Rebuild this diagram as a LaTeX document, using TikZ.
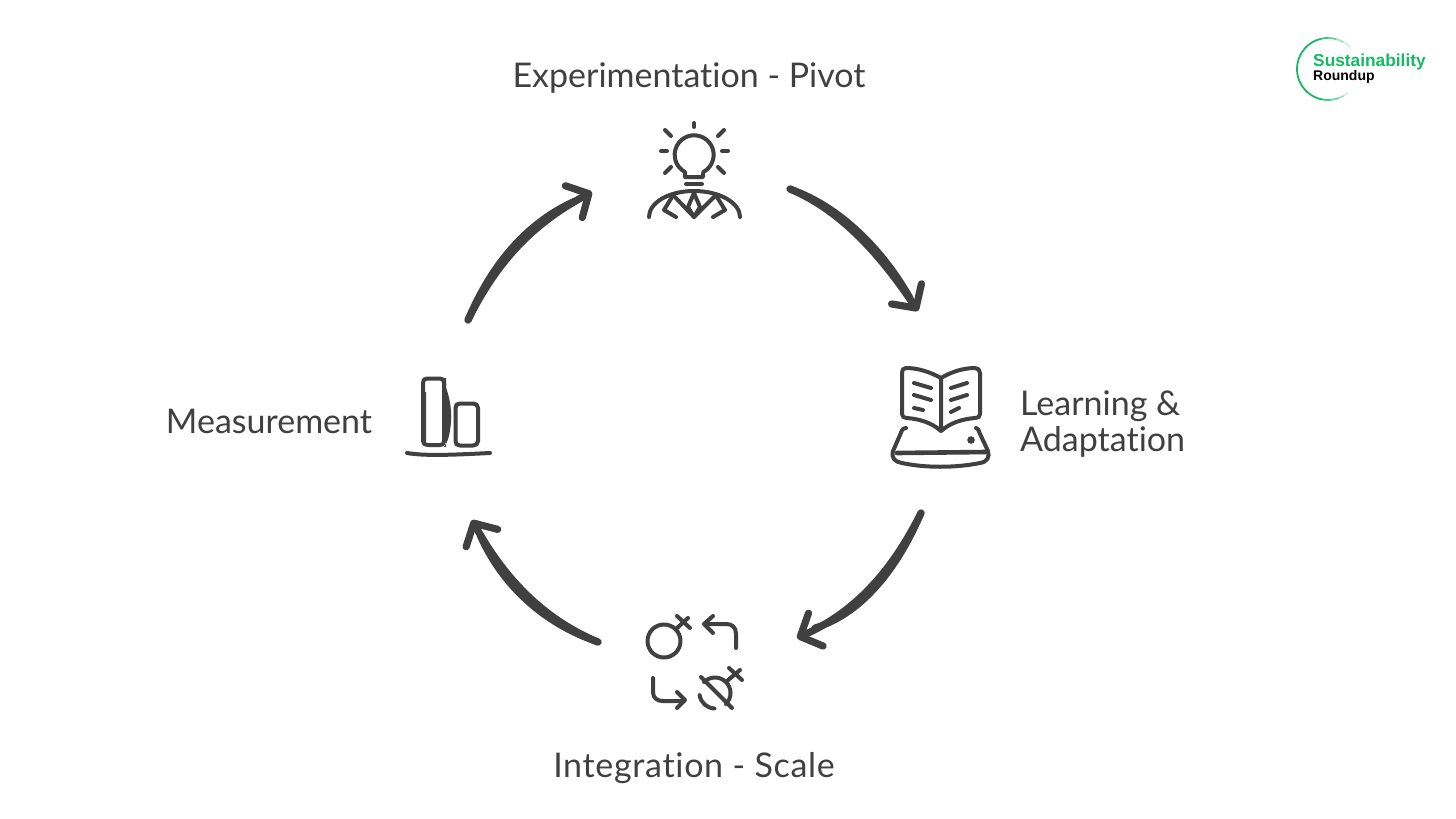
\documentclass[tikz,border=0pt]{standalone}
\usepackage{fontspec}
\setmainfont[Ligatures=NoCommon]{Lato}
\newfontfamily\logofont{Liberation Sans}
\usetikzlibrary{arrows.meta}
\definecolor{ink}{HTML}{404040}
\definecolor{logogreen}{HTML}{17B866}
\tikzset{
  flow/.style={draw=ink,line width=7.2pt,line cap=round,line join=round,
    -{Straight Barb[round,length=17pt,width=36pt,line width=7.2pt]}},
  swell/.style={draw=ink,line width=7pt,line cap=round,line join=round},
  icon/.style={draw=ink,line width=4pt,line cap=round,line join=round},
  ring/.style={draw=logogreen,line width=1.8pt},
  label/.style={text=ink,font=\fontsize{34}{36}\selectfont,inner sep=0pt},
}
\begin{document}
\begin{tikzpicture}[x=1pt,y=-1pt]
\useasboundingbox (0,0) rectangle (1456,819);
\fill[white] (0,0) rectangle (1456,819);

% labels
\node[label] (pivot) at (689,78) {Experimentation - Pivot};
\node[label,anchor=west,align=left] (learn) at (1020,424) {Learning \&\\Adaptation};
\node[label,font=\fontsize{34}{36}\selectfont\addfontfeature{LetterSpace=2}] (scale) at (694,768) {Integration - Scale};
\node[label] (meas) at (269,421) {Measurement};

% connector end points
\coordinate (a1s) at (468,320); \coordinate (a1t) at (592,192);
\coordinate (a2s) at (790,189); \coordinate (a2t) at (918,311);
\coordinate (a3s) at (921,513); \coordinate (a3t) at (797,638);
\coordinate (a4s) at (598,642); \coordinate (a4t) at (472,520);

% connectors
\draw[flow] (a1s) .. controls (495,265) and (530,225) .. (a1t);
\draw[flow] (a2s) .. controls (845,212) and (885,262) .. (a2t);
\draw[flow] (a3s) .. controls (895,565) and (860,610) .. (a3t);
\draw[flow] (a4s) .. controls (545,620) and (505,580) .. (a4t);
% hand-drawn swellings: same curves, control points nudged sideways
\draw[swell] (a1s) .. controls (492,263) and (528,222) .. (575,201);
\draw[swell] (a2s) .. controls (847,209) and (888,259) .. (910,298);
\draw[swell] (a3s) .. controls (898,567) and (863,613) .. (815,628);
\draw[swell] (a4s) .. controls (542,623) and (501,583) .. (480,535);

% bulb + person icon
\draw[icon] (685,177) -- (685,172) arc[start angle=118,end angle=422,radius=19.5] -- (703,177) -- cycle;
\draw[icon] (694,123) -- (694,127);
\draw[icon] (665,130) -- (671,136);
\draw[icon] (724,130) -- (718,136);
\draw[icon] (661,151) -- (667,151);
\draw[icon] (722,151) -- (728,151);
\draw[icon] (665,173) -- (671,167);
\draw[icon] (724,173) -- (718,167);
\draw[icon] (686,184) -- (702,184);
\draw[icon] (649,217) .. controls (649,203) and (668,191) .. (694,191) .. controls (720,191) and (740,203) .. (740,217);
\draw[icon] (672,197) -- (664,210) -- (676,217);
\draw[icon] (717,197) -- (725,210) -- (713,217);
\draw[icon] (673,195) -- (694,217) -- (716,195);
\draw[icon] (694,193) -- (688,207) -- (694,217) -- (700,207) -- cycle;

% book icon
\draw[icon] (941,378) .. controls (930,372) and (918,368) .. (906,368)
  .. controls (903,368) and (902,370) .. (902,373) -- (902,414)
  .. controls (902,417) and (904,418) .. (907,418)
  .. controls (920,419) and (932,423) .. (941,431)
  .. controls (950,423) and (962,419) .. (975,418)
  .. controls (978,418) and (980,417) .. (980,414) -- (980,373)
  .. controls (980,370) and (978,368) .. (975,368)
  .. controls (963,368) and (951,372) .. (941,378) -- (941,431);
\draw[icon] (914,383) -- (931,388);
\draw[icon] (914,395) -- (931,400);
\draw[icon] (914,408) -- (923,410);
\draw[icon] (951,388) -- (967,383);
\draw[icon] (951,400) -- (967,395);
\draw[icon] (951,412) -- (959,408);
\draw[icon] (906,428) .. controls (902,428) and (901,432) .. (900,435) -- (893,451)
  .. controls (891,458) and (895,462) .. (902,463)
  .. controls (925,468) and (955,468) .. (980,463)
  .. controls (987,462) and (990,457) .. (988,451) -- (980,434)
  .. controls (979,431) and (978,428) .. (976,428);
\draw[icon,line width=4.6pt] (897,453) -- (986,452);
\fill[ink] (971,440) circle[radius=3.8];

% integration icon
\draw[icon] (664,641) circle[radius=16.5];
\draw[icon] (676,629) -- (688,618);
\draw[icon] (677,616) -- (690,628);
\draw[icon] (736,648) -- (736,634) .. controls (736,627) and (732,624) .. (726,624) -- (705,624);
\draw[icon] (713,616) -- (704,624) -- (713,633);
\draw[icon] (653,678) -- (653,692) .. controls (653,698) and (657,701) .. (663,701) -- (684,701);
\draw[icon] (677,692) -- (685,700) -- (677,708);
\draw[icon] (701,677) -- (732,708);
\draw[icon] (715,693) ++(225:15.5) arc[start angle=225,end angle=405,radius=15.5];
\draw[icon] (715,693) ++(172:15.5) arc[start angle=172,end angle=92,radius=15.5];
\draw[icon] (727,681) -- (740,670);
\draw[icon] (729,668) -- (742,680);

% measurement icon
\fill[ink] (442,378) .. controls (449,392) and (452,408) .. (451,422) .. controls (450,434) and (448,442) .. (444,447) -- (446,447) -- (446,378) -- cycle;
\fill[ink] (424,392) .. controls (420,410) and (420,430) .. (424,444) -- (426,444) -- (426,392) -- cycle;
\draw[icon] (427,378.5) -- (440,378.5) .. controls (443,378.5) and (444,380) .. (444,383)
  -- (444,441) .. controls (444,444) and (443,445) .. (440,445)
  -- (428,445) .. controls (425,445) and (423,444) .. (423,441)
  -- (423,383) .. controls (423,380) and (424,378.5) .. (427,378.5) -- cycle;
\draw[icon] (460,403.5) -- (473,403.5) .. controls (476,403.5) and (478,405) .. (478,408)
  -- (478,441) .. controls (478,444) and (476,445.5) .. (473,445.5)
  -- (460,445.5) .. controls (457,445.5) and (455.5,444) .. (455.5,441)
  -- (455.5,408) .. controls (455.5,405) and (457,403.5) .. (460,403.5) -- cycle;
\draw[icon] (407,453) .. controls (425,456) and (450,455) .. (490,453);

% logo ring, fading out at both ends on the right
\draw[ring] (1328,69) ++(100:31) arc[start angle=100,end angle=255,radius=31];
\foreach \a/\b/\o in {100/85/0.8,85/70/0.6,70/60/0.4,60/50/0.2,255/270/0.85,270/285/0.65,285/300/0.4,300/315/0.2}{
  \draw[ring,draw opacity=\o] (1328,69) ++(\a:31) arc[start angle=\a,end angle=\b,radius=31];
}
\node[anchor=west,inner sep=0pt,text=logogreen,font=\logofont\bfseries\fontsize{17.3}{18}\selectfont] (logoa) at (1313,62) {Sustainability};
\node[anchor=west,inner sep=0pt,text=black,font=\logofont\bfseries\fontsize{14}{15}\selectfont] (logob) at (1313,77) {Roundup};
\end{tikzpicture}
\end{document}
